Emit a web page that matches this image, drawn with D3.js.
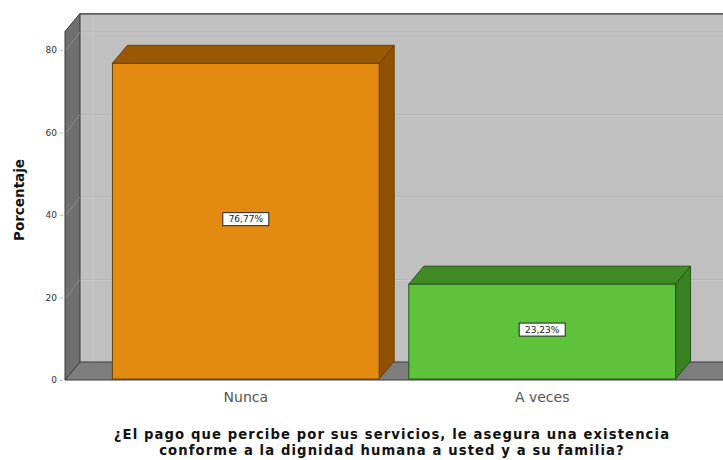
<!DOCTYPE html>
<html>
<head>
<meta charset="utf-8">
<script src="https://cdn.jsdelivr.net/npm/d3@7/dist/d3.min.js"></script>
<style>
  html, body { margin: 0; padding: 0; background: #ffffff; }
  svg { display: block; }
</style>
</head>
<body>
<svg id="chart" width="723" height="460"></svg>
<script>
// Response categories and their percentages
const categories = ["Nunca", "A veces"];
const percentages = [76.77, 23.23];
const valueLabels = ["76,77%", "23,23%"];
const tickValues = [0, 20, 40, 60, 80];
const yAxisTitle = "Porcentaje";
const xAxisTitleLines = [
  "¿El pago que percibe por sus servicios, le asegura una existencia",
  "conforme a la dignidad humana a usted y a su familia?"
];

const W = 723, H = 460;
const svg = d3.select("#chart");

// front plane geometry and 3D depth offset
const left = 65, right = 723, bottom = 380;
const depthX = 15, depthY = -18;
const yTop = 84.5;

const y = d3.scaleLinear().domain([0, 80]).range([bottom, 50]);
const x = d3.scaleBand().domain(categories).range([left, right])
  .paddingInner(0.1).paddingOuter(0.16);

const colors = {
  "Nunca":   { front: "#e38a10", top: "#9a5a05", side: "#8f5300", edge: "#6a3f00" },
  "A veces": { front: "#5ec23b", top: "#3f8b26", side: "#3a8123", edge: "#265416" }
};

const pts = a => a.map(p => p.join(",")).join(" ");

// back wall
const wallTopY = y(yTop) + depthY;
svg.append("rect")
  .attr("x", left + depthX).attr("y", wallTopY)
  .attr("width", W - left - depthX + 20).attr("height", bottom + depthY - wallTopY)
  .attr("fill", "#c0c0c0");

// grid lines on back wall and left wall
const grid = svg.append("g");
tickValues.filter(v => v > 0).forEach(v => {
  grid.append("line")
    .attr("x1", left + depthX).attr("x2", W + 20)
    .attr("y1", y(v) + depthY).attr("y2", y(v) + depthY)
    .attr("stroke", "#b4b4b4").attr("stroke-width", 1);
  grid.append("line")
    .attr("x1", left + depthX).attr("x2", W + 20)
    .attr("y1", y(v) + depthY + 1).attr("y2", y(v) + depthY + 1)
    .attr("stroke", "#c9c9c9").attr("stroke-width", 1);
});
svg.append("line")
  .attr("x1", left + depthX + 13).attr("x2", left + depthX + 13)
  .attr("y1", wallTopY).attr("y2", bottom + depthY)
  .attr("stroke", "#c8c8c8").attr("stroke-width", 1);

// back wall top border
svg.append("line")
  .attr("x1", left + depthX).attr("x2", W + 20)
  .attr("y1", wallTopY + 0.5).attr("y2", wallTopY + 0.5)
  .attr("stroke", "#333").attr("stroke-width", 1.2);

// left wall
svg.append("polygon")
  .attr("points", pts([
    [left, y(yTop)], [left + depthX, wallTopY],
    [left + depthX, bottom + depthY], [left, bottom]
  ]))
  .attr("fill", "#6f6f6f").attr("stroke", "#3a3a3a").attr("stroke-width", 1);
tickValues.filter(v => v > 0).forEach(v => {
  svg.append("line")
    .attr("x1", left + 1).attr("y1", y(v))
    .attr("x2", left + depthX).attr("y2", y(v) + depthY)
    .attr("stroke", "#8a8a8a").attr("stroke-width", 1);
});

// floor
svg.append("polygon")
  .attr("points", pts([
    [left, bottom], [left + depthX, bottom + depthY],
    [W + 20, bottom + depthY], [W + 20, bottom]
  ]))
  .attr("fill", "#7d7d7d").attr("stroke", "#3a3a3a").attr("stroke-width", 1);

// bars
const bars = svg.append("g");
categories.forEach((c, i) => {
  const v = percentages[i];
  const x0 = x(c), x1 = x(c) + x.bandwidth();
  const yv = y(v), yb = y(0) - 1;
  const col = colors[c];
  const g = bars.append("g");
  // top face
  g.append("polygon")
    .attr("points", pts([[x0, yv], [x0 + depthX, yv + depthY], [x1 + depthX, yv + depthY], [x1, yv]]))
    .attr("fill", col.top).attr("stroke", col.edge).attr("stroke-width", 1);
  // side face
  g.append("polygon")
    .attr("points", pts([[x1, yv], [x1 + depthX, yv + depthY], [x1 + depthX, yb + depthY], [x1, yb]]))
    .attr("fill", col.side).attr("stroke", col.edge).attr("stroke-width", 1);
  // front face
  g.append("rect")
    .attr("x", x0).attr("y", yv)
    .attr("width", x.bandwidth()).attr("height", yb - yv)
    .attr("fill", col.front).attr("stroke", col.edge).attr("stroke-width", 1);

  // value label
  const cx = x0 + x.bandwidth() / 2;
  const cy = (yv + yb) / 2 - 2;
  const lbl = g.append("g").attr("transform", `translate(${cx},${cy})`);
  lbl.append("rect")
    .attr("x", -23).attr("y", -6.5).attr("width", 46).attr("height", 13)
    .attr("fill", "#ffffff").attr("stroke", "#222").attr("stroke-width", 1);
  lbl.append("text")
    .attr("text-anchor", "middle").attr("dy", "0.35em")
    .attr("font-family", "DejaVu Sans, sans-serif").attr("font-size", 9)
    .attr("fill", "#222")
    .text(valueLabels[i]);
});

// y axis
const yAxis = d3.axisLeft(y).tickValues(tickValues).tickSize(3).tickPadding(3);
const ya = svg.append("g").attr("transform", `translate(${left - 2},0)`).call(yAxis);
ya.select(".domain").remove();
ya.selectAll(".tick line").attr("stroke", "#bbb");
ya.selectAll(".tick text")
  .attr("font-family", "DejaVu Sans, sans-serif").attr("font-size", 9).attr("fill", "#333");

// x axis category labels
const xAxis = d3.axisBottom(x).tickSize(0).tickPadding(12);
const xa = svg.append("g").attr("transform", `translate(0,${bottom})`).call(xAxis);
xa.select(".domain").remove();
xa.selectAll(".tick text")
  .attr("font-family", "DejaVu Sans, sans-serif").attr("font-size", 14).attr("fill", "#555");

// axis titles
svg.append("text")
  .attr("transform", `translate(24,200) rotate(-90)`)
  .attr("text-anchor", "middle")
  .attr("font-family", "DejaVu Sans, sans-serif").attr("font-size", 13.5)
  .attr("font-weight", "bold").attr("fill", "#111")
  .text(yAxisTitle);

const xTitle = svg.append("g")
  .attr("font-family", "DejaVu Sans, sans-serif").attr("font-size", 13.2)
  .attr("font-weight", "bold").attr("fill", "#111")
  .attr("letter-spacing", "1.1px");
xTitle.selectAll("text").data(xAxisTitleLines).join("text")
  .attr("text-anchor", "middle")
  .attr("x", 392).attr("y", (d, i) => 439 + i * 16)
  .text(d => d);
</script>
</body>
</html>
